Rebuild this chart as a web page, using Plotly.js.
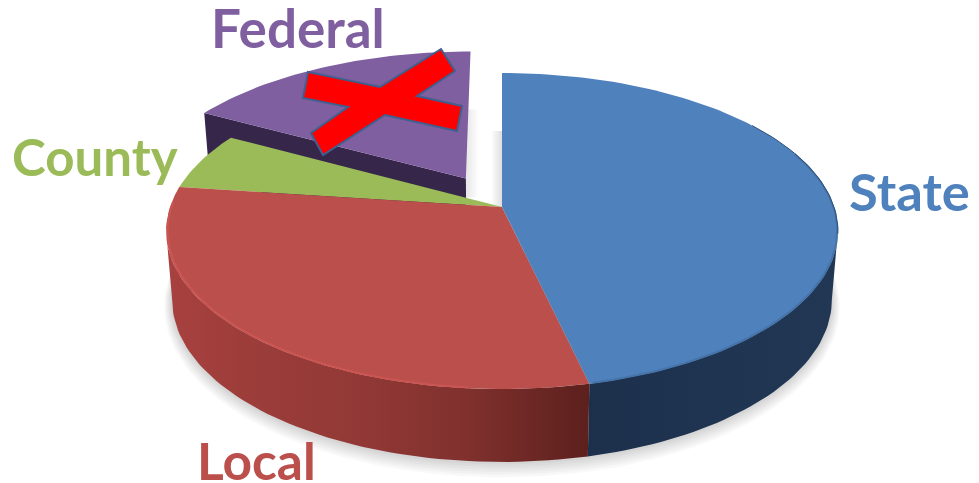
<!DOCTYPE html>
<html><head><meta charset="utf-8">
<script src="https://cdn.plot.ly/plotly-3.0.1.min.js"></script>
<style>html,body{margin:0;padding:0;background:#fff}#c{width:979px;height:483px}</style>
</head><body><div id="c"></div>
<script>
// Data (clockwise from 12 o'clock)
const categories = ['State', 'Local', 'County', 'Federal'];
const shares = [46.4, 30.7, 5.9, 17.0];
const exploded = [0, 0, 0, 0.22];
const topColors = ['#4f81bd', '#bb4f4c', '#9bbb59', '#7f5f9f'];

// Projection of the pie disc on to the page
const K = 0.152;
const TOP = {cx: 502, cy: 207, A: 332, B: 154.4};
const BASE = {cx: 502, cy: 275.4, A: 326, B: 158.2};
const project = (p, th, r, e, mid) => {
  const rad = th * Math.PI / 180, m = mid * Math.PI / 180;
  const u = r * Math.sin(rad) + e * Math.sin(m);
  const v = -r * Math.cos(rad) - e * Math.cos(m);
  const d = 1 - K * v;
  return [p.cx + p.A * u / d, p.cy + p.B * v / d];
};
const arc = (p, a, b, e = 0, mid = 0, r = 1) => {
  const n = Math.max(2, Math.ceil(Math.abs(b - a) / 1.5)), out = [];
  for (let i = 0; i <= n; i++) out.push(project(p, a + (b - a) * i / n, r, e, mid));
  return out;
};
const poly = (pts, extra) => Object.assign({
  x: pts.map(q => q[0]), y: pts.map(q => q[1]), type: 'scatter', mode: 'lines',
  line: {width: 0}, fill: 'toself', hoverinfo: 'skip', showlegend: false
}, extra);
const fillOf = c => ({fillcolor: c});
const grad = stops => ({fillgradient: {type: 'horizontal', colorscale: stops}});
const stroke = (pts, color, width) => ({
  x: pts.map(q => q[0]), y: pts.map(q => q[1]), type: 'scatter', mode: 'lines',
  line: {color, width}, hoverinfo: 'skip', showlegend: false
});

// Slice angles
const total = shares.reduce((a, b) => a + b, 0);
let run = 0;
const spans = shares.map(s => { const a = run / total * 360; run += s; return [a, run / total * 360]; });
const [state, local, county, federal] = spans;
const fedMid = (federal[0] + federal[1]) / 2, fedE = exploded[3];
const SIDE = 98.7; // where the disc edge turns to the back

const traces = [];
// soft ground shadow: front part of the base only, so the gap behind stays clear
for (let i = 6; i >= 1; i--) {
  const p = {cx: BASE.cx, cy: BASE.cy + i * 0.9, A: BASE.A + i * 1.3, B: BASE.B + i * 1.4};
  traces.push(poly(arc(p, 80, 280), fillOf('rgba(0,0,0,0.026)')));
}
// shadows cast by the pulled-out slice and on the disc gap
const fa = project(TOP, 0, 0, fedE, fedMid), ft = project(TOP, federal[1], 1, fedE, fedMid);
const bApex = project(TOP, 0, 0, 0, 0), bTop = project(TOP, 0, 1, 0, 0);
traces.push(poly([[fa[0], ft[1] + 58], [fa[0] + 13, ft[1] + 58], [fa[0] + 13, fa[1] + 19], [fa[0], fa[1] + 19]],
  grad([[0, 'rgba(0,0,0,0.10)'], [1, 'rgba(0,0,0,0)']])));
traces.push(poly([[bTop[0] - 11, bTop[1] + 58], [bTop[0], bTop[1] + 58], [bTop[0], bApex[1]], [bTop[0] - 11, bApex[1]]],
  grad([[0, 'rgba(0,0,0,0)'], [1, 'rgba(0,0,0,0.13)']])));

// Federal: cut face, then top
const fedOuterTop = project(TOP, federal[0], 1, fedE, fedMid);
const fedOuterBase = project(BASE, federal[0], 1, fedE, fedMid);
const fedApexBase = project(BASE, 0, 0, fedE, fedMid);
traces.push(poly([fedOuterTop, fa, fedApexBase, fedOuterBase], fillOf('#35264a')));
traces.push(poly([fa].concat(arc(TOP, federal[0], federal[1], fedE, fedMid)), fillOf(topColors[3])));

// Outer walls
traces.push(poly(arc(TOP, SIDE, state[1]).concat(arc(BASE, state[1], SIDE)),
  grad([[0, '#1c304c'], [0.5, '#1f3451'], [1, '#213754']])));
traces.push(poly(arc(TOP, local[0], 360 - SIDE).concat(arc(BASE, 360 - SIDE, local[0])),
  grad([[0, '#a8413f'], [0.2, '#9c3d3a'], [0.45, '#923936'], [0.72, '#7f302d'], [1, '#5c201d']])));

// Top faces
const apex = project(TOP, 0, 0, 0, 0);
[county, local, state].forEach((s) => {
  const i = spans.indexOf(s);
  traces.push(poly([apex].concat(arc(TOP, s[0], s[1])), fillOf(topColors[i])));
});
// Rim bevels
traces.push(stroke(arc(TOP, local[0] + 18, 272, 0, 0, 0.996), '#cb5552', 2));
traces.push(stroke(arc(TOP, SIDE - 30, state[1] - 0.5, 0, 0, 0.998), '#4674a9', 2));
traces.push(stroke(arc(TOP, 55, SIDE + 1), '#2d4f78', 1));

const xMark = 'M308,72 L380,87 L441,49 L455,71 L417,96 L462,106 L457,131 L385,115 L323,155 L311,133 L348,107 L303,98 Z';

const label = (i, x, y, size, height) => ({
  text: '<b>' + categories[i] + '</b>', x, y, xref: 'x', yref: 'y', xanchor: 'left', yanchor: 'middle',
  showarrow: false, height, font: {family: 'Lato, "Open Sans", sans-serif', size, color: topColors[i]}
});

Plotly.newPlot('c', traces, {
  width: 979, height: 483, margin: {l: 0, r: 0, t: 0, b: 0},
  paper_bgcolor: '#fff', plot_bgcolor: '#fff', showlegend: false,
  xaxis: {range: [0, 979], visible: false, fixedrange: true},
  yaxis: {range: [483, 0], visible: false, fixedrange: true},
  shapes: [{type: 'path', path: xMark, fillcolor: '#ff0000', line: {color: '#3f5f8f', width: 2}, layer: 'above'}],
  annotations: [label(0, 847, 190, 52.5), label(1, 195, 460, 51.5, 44), label(2, 10, 156, 51), label(3, 209, 27, 53, 46)]
}, {staticPlot: true, displayModeBar: false});
</script></body></html>
